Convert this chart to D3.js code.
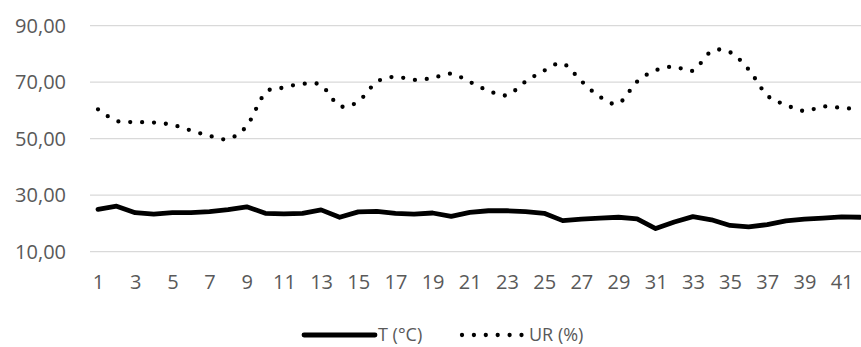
<!DOCTYPE html>
<html>
<head>
<meta charset="utf-8">
<script src="https://cdn.jsdelivr.net/npm/d3@7/dist/d3.min.js"></script>
<style>
  html, body { margin: 0; padding: 0; background: #fff; }
  svg { display: block; }
  text { font-family: "Open Sans", "Noto Sans", sans-serif; fill: #595959; }
</style>
</head>
<body>
<svg id="chart" width="861" height="347"></svg>
<script>
// Daily readings: day number, temperature and relative humidity
const days = d3.range(1, 43);
const temperature = [
  25.0, 26.1, 23.8, 23.3, 23.8, 23.8, 24.2, 24.9, 25.9, 23.6,
  23.4, 23.6, 24.8, 22.2, 24.1, 24.3, 23.6, 23.3, 23.7, 22.5,
  23.9, 24.5, 24.5, 24.2, 23.6, 21.0, 21.5, 21.9, 22.2, 21.6,
  18.2, 20.5, 22.4, 21.3, 19.3, 18.8, 19.6, 20.9, 21.5, 21.9,
  22.3, 22.2
];
const humidity = [
  60.4, 56.3, 55.9, 55.7, 54.9, 52.9, 51.0, 49.9, 54.5, 66.2,
  68.1, 69.4, 68.9, 61.6, 63.2, 70.1, 71.9, 70.8, 71.5, 73.0,
  70.1, 67.0, 65.4, 70.2, 74.1, 76.6, 70.4, 64.8, 62.5, 70.2,
  74.2, 75.5, 74.1, 80.9, 80.6, 74.5, 65.3, 62.0, 59.8, 61.4,
  60.9, 60.5
];
const yTicks = [10, 30, 50, 70, 90];
const seriesNames = ["T (°C)", "UR (%)"];

const svg = d3.select("#chart");
const fmt = v => d3.format(".2f")(v).replace(".", ",");

const x = d3.scalePoint()
  .domain(days)
  .range([98, 98 + 41 * 18.59]);

const y = d3.scaleLinear()
  .domain([10, 90])
  .range([251.7, 25.7]);

// horizontal gridlines
svg.append("g")
  .selectAll("line")
  .data(yTicks)
  .join("line")
  .attr("x1", 90)
  .attr("x2", 861)
  .attr("y1", d => y(d))
  .attr("y2", d => y(d))
  .attr("stroke", "#d9d9d9")
  .attr("stroke-width", 1.3);

// y axis labels
const yAxis = d3.axisLeft(y).tickValues(yTicks).tickFormat(fmt).tickSize(0).tickPadding(0);
svg.append("g")
  .attr("transform", "translate(66,0)")
  .call(yAxis)
  .call(g => g.select(".domain").remove())
  .call(g => g.selectAll("text")
    .attr("font-size", 20)
    .attr("font-family", "Open Sans, Noto Sans, sans-serif")
    .attr("fill", "#595959"));

// x axis labels (every other day)
const xAxis = d3.axisBottom(x)
  .tickValues(days.filter(d => d % 2 === 1))
  .tickSize(0)
  .tickPadding(0);
svg.append("g")
  .attr("transform", "translate(0,275)")
  .call(xAxis)
  .call(g => g.select(".domain").remove())
  .call(g => g.selectAll("text")
    .attr("font-size", 20)
    .attr("font-family", "Open Sans, Noto Sans, sans-serif")
    .attr("fill", "#595959"));

// temperature line
const tLine = d3.line()
  .x((d, i) => x(days[i]))
  .y(d => y(d));
svg.append("path")
  .datum(temperature)
  .attr("d", tLine)
  .attr("fill", "none")
  .attr("stroke", "#000")
  .attr("stroke-width", 4.8)
  .attr("stroke-linejoin", "round")
  .attr("stroke-linecap", "round");

// humidity line, smoothed, round dots
const urLine = d3.line()
  .x((d, i) => x(days[i]))
  .y(d => y(d))
  .curve(d3.curveCardinal.tension(0));
svg.append("path")
  .datum(humidity)
  .attr("d", urLine)
  .attr("fill", "none")
  .attr("stroke", "#000")
  .attr("stroke-width", 4.3)
  .attr("stroke-linecap", "round")
  .attr("stroke-dasharray", "0 11.9");

// legend
const legend = svg.append("g").attr("transform", "translate(0,335)");
legend.append("line")
  .attr("x1", 304).attr("x2", 375)
  .attr("y1", 0).attr("y2", 0)
  .attr("stroke", "#000")
  .attr("stroke-width", 4.8)
  .attr("stroke-linecap", "round");
legend.append("text")
  .attr("x", 378).attr("y", 0)
  .attr("dy", "0.32em")
  .attr("font-size", 18)
  .text(seriesNames[0]);
legend.append("line")
  .attr("x1", 462).attr("x2", 522)
  .attr("y1", 0).attr("y2", 0)
  .attr("stroke", "#000")
  .attr("stroke-width", 4.3)
  .attr("stroke-linecap", "round")
  .attr("stroke-dasharray", "0 11.9");
legend.append("text")
  .attr("x", 529).attr("y", 0)
  .attr("dy", "0.32em")
  .attr("font-size", 18)
  .text(seriesNames[1]);
</script>
</body>
</html>
